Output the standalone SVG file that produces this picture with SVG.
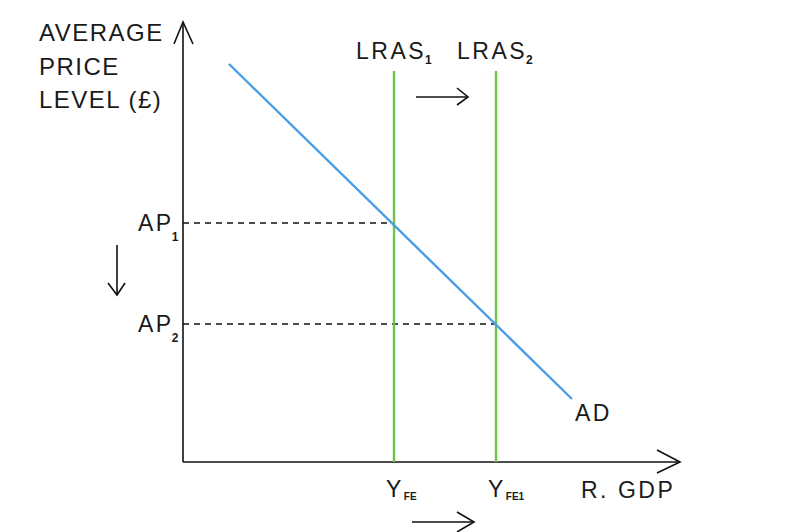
<svg xmlns="http://www.w3.org/2000/svg" width="788" height="532" viewBox="0 0 788 532">
<style>
text{font-family:"Liberation Sans",Arial,sans-serif;fill:#1a1a1a}
.lab{font-size:23px;letter-spacing:2.5px}
.big{font-size:24px;letter-spacing:1.5px}
.sub{font-size:12px;font-weight:bold;letter-spacing:0}
.ax{stroke:#111;stroke-width:1.6;fill:none}
.dash{stroke:#111;stroke-width:1.4;stroke-dasharray:6 5;fill:none}
.lras{stroke:#6cc24a;stroke-width:2.4}
.ad{stroke:#4a9ee8;stroke-width:2.4}
</style>
<rect width="788" height="532" fill="#fff"/>
<g id="axes">
<polyline class="ax" points="183,462 183,22"/>
<polyline class="ax" points="174,44 183,22 193,44"/>
<polyline class="ax" points="183,462 680,462"/>
<polyline class="ax" points="657,450 680,462 657,473"/>
</g>
<g id="axis-labels">
<text class="big" x="39" y="41">AVERAGE</text>
<text class="big" x="39" y="75">PRICE</text>
<text class="big" x="39" y="108">LEVEL (£)</text>
<text class="lab" x="581" y="498">R. GDP</text>
</g>
<g id="connectors">
<polyline class="dash" points="183,223 394,223"/>
<polyline class="dash" points="183,324 496,324"/>
<polyline class="ax" points="416,97 468,97"/>
<polyline class="ax" points="457,88 468,97 457,105"/>
<polyline class="ax" points="117,245 117,295"/>
<polyline class="ax" points="108,283 117,295 125,283"/>
<polyline class="ax" points="412,522 474,522"/>
<polyline class="ax" points="457,512 474,522 457,532"/>
</g>
<g id="lras1">
<line class="lras" x1="394" y1="71" x2="394" y2="462"/>
<text class="lab" x="356" y="59">LRAS<tspan class="sub" dx="-1" dy="5">1</tspan></text>
</g>
<g id="lras2">
<line class="lras" x1="496" y1="71" x2="496" y2="462"/>
<text class="lab" x="457" y="59">LRAS<tspan class="sub" dx="-1" dy="5">2</tspan></text>
</g>
<g id="ad">
<line class="ad" x1="229" y1="64" x2="572" y2="399"/>
<text class="lab" x="575" y="421">AD</text>
</g>
<g id="ap1">
<text class="lab" x="138" y="231">AP<tspan class="sub" dx="-2" dy="10">1</tspan></text>
</g>
<g id="ap2">
<text class="lab" x="138" y="332">AP<tspan class="sub" dx="-2" dy="10">2</tspan></text>
</g>
<g id="yfe">
<text class="lab" x="386" y="497">Y<tspan class="sub" dy="3" style="font-size:10px">FE</tspan></text>
</g>
<g id="yfe1">
<text class="lab" x="488" y="497">Y<tspan class="sub" dy="3" style="font-size:10px">FE1</tspan></text>
</g>
</svg>
